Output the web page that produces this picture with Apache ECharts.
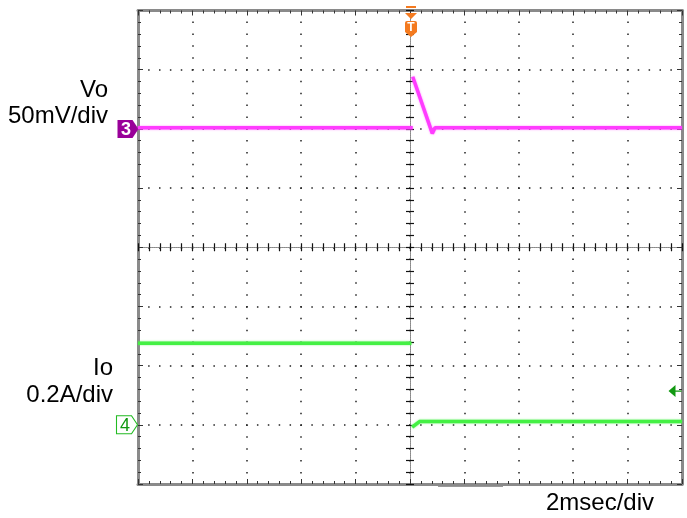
<!DOCTYPE html>
<html><head><meta charset="utf-8">
<script src="https://cdn.jsdelivr.net/npm/echarts@6/dist/echarts.min.js"></script>
<style>html,body{margin:0;padding:0;background:#fff}#c{width:687px;height:518px}</style>
</head><body><div id="c"></div>
<script>
// Time axis in ms (2 ms/div, trigger at 0)
const voTime = [-10, 0.1, null, 0.1, 0.82, 0.92, 10];
const voMv   = [1, 1, null, 44, -3.8, 1, 1];
const ioTime = [-10, 0.05, null, 0.08, 0.35, 10];
const ioAmp  = [0.276, 0.276, null, -0.008, 0.011, 0.011];
const trigLevelA = 0.114;
const labels = { vo: 'Vo', voScale: '50mV/div', io: 'Io', ioScale: '0.2A/div', time: '2msec/div' };
const VO_OFFSET_DIV = 2, VO_PER_DIV = 50;   // mV
const IO_OFFSET_DIV = -3, IO_PER_DIV = 0.2; // A

const voData = voTime.map((t, i) => t === null ? null : [t, VO_OFFSET_DIV + voMv[i] / VO_PER_DIV]);
const ioData = ioTime.map((t, i) => t === null ? null : [t, IO_OFFSET_DIV + ioAmp[i] / IO_PER_DIV]);

const chart = echarts.init(document.getElementById('c'), null, { renderer: 'canvas' });
const FONT = '"Liberation Sans", Arial, sans-serif';
const borderLine = { show: true, onZero: false, lineStyle: { color: '#8a8a8a', width: 3 } };
const borderTick = { show: true, inside: true, length: 5, lineStyle: { color: '#333', width: 1 } };
const borderMinor = { show: true, splitNumber: 5, length: 3, lineStyle: { color: '#333', width: 1 } };
const centerLine = { show: true, onZero: true, onZeroAxisIndex: 0, lineStyle: { color: '#888', width: 1, type: [1, 1] } };
const cTick = (inside) => ({ show: true, inside: inside, length: 4, lineStyle: { color: '#111', width: 1.2 } });
const cMinor = { show: true, splitNumber: 5, length: 4, lineStyle: { color: '#111', width: 1.2 } };
const xBase = { type: 'value', min: -10, max: 10, interval: 2, axisLabel: { show: false }, splitLine: { show: false } };
const yBase = { type: 'value', min: -4, max: 4, interval: 1, axisLabel: { show: false }, splitLine: { show: false } };

const chMarker = 'path://M0,0 L15,0 L21,9 L15,18 L0,18 Z';
const trigMarker = 'path://M1,0 L11,0 L11,2 L1,2 Z M0,7 L12,7 L6,13 Z M2,15 L10,15 Q12,15 12,17 L12,26 L6,31 L0,26 L0,17 Q0,15 2,15 Z';
const levelMarker = 'path://M0,6 L7,0 L7,12 Z M7,5.4 L13,5.4 L13,6.6 L7,6.6 Z';

chart.setOption({
  animation: false,
  backgroundColor: '#fff',
  grid: { left: 138, right: 5, top: 10.5, bottom: 34, show: false },
  xAxis: [
    Object.assign({}, xBase, { position: 'bottom', axisLine: borderLine, axisTick: borderTick, minorTick: borderMinor,
      splitLine: { show: true, lineStyle: { color: '#222', width: 1.5, type: [1.5, 10.35], dashOffset: 0.75 } } }),
    Object.assign({}, xBase, { position: 'top', axisLine: borderLine, axisTick: borderTick, minorTick: borderMinor }),
    Object.assign({}, xBase, { position: 'bottom', axisLine: centerLine, axisTick: cTick(true), minorTick: cMinor }),
    Object.assign({}, xBase, { position: 'bottom', axisLine: centerLine, axisTick: cTick(false), minorTick: cMinor })
  ],
  yAxis: [
    Object.assign({}, yBase, { position: 'left', axisLine: borderLine, axisTick: borderTick, minorTick: borderMinor,
      splitLine: { show: true, lineStyle: { color: '#222', width: 1.5, type: [1.5, 9.38], dashOffset: 0.75 } } }),
    Object.assign({}, yBase, { position: 'right', axisLine: borderLine, axisTick: borderTick, minorTick: borderMinor }),
    Object.assign({}, yBase, { position: 'left', axisLine: centerLine, axisTick: cTick(true), minorTick: cMinor }),
    Object.assign({}, yBase, { position: 'left', axisLine: centerLine, axisTick: cTick(false), minorTick: cMinor })
  ],
  series: [
    {
      type: 'line', name: labels.vo, data: voData, showSymbol: false, connectNulls: false,
      lineStyle: { color: '#ff3cff', width: 3.5, shadowColor: 'rgba(255,80,255,0.7)', shadowBlur: 2 },
      itemStyle: { color: '#ff3cff' }, z: 5,
      markPoint: {
        silent: true, animation: false,
        data: [
          { coord: [-10, VO_OFFSET_DIV], symbol: chMarker, symbolSize: [21, 18], symbolOffset: [-10, 0],
            itemStyle: { color: '#990099' },
            label: { show: true, formatter: '3', color: '#fff', fontSize: 18, fontWeight: 'bold', fontFamily: FONT, offset: [-2, 1] } },
          { coord: [0, 4], symbol: trigMarker, symbolSize: [12, 31], symbolOffset: [1, 11],
            itemStyle: { color: '#f47a1f' },
            label: { show: true, formatter: 'T', color: '#fff', fontSize: 12, fontWeight: 'bold', fontFamily: FONT, offset: [0, 6] } }
        ]
      }
    },
    {
      type: 'line', name: labels.io, data: ioData, showSymbol: false, connectNulls: false,
      lineStyle: { color: '#44f044', width: 3.5, shadowColor: 'rgba(80,240,80,0.7)', shadowBlur: 2 },
      itemStyle: { color: '#44f044' }, z: 5,
      markPoint: {
        silent: true, animation: false,
        data: [
          { coord: [-10, IO_OFFSET_DIV], symbol: chMarker, symbolSize: [21, 18], symbolOffset: [-11, 0],
            itemStyle: { color: '#fff', borderColor: '#22bb22', borderWidth: 1 },
            label: { show: true, formatter: '4', color: '#119911', fontSize: 18, fontFamily: FONT, offset: [-2, 1] } },
          { coord: [10, IO_OFFSET_DIV + trigLevelA / IO_PER_DIV], symbol: levelMarker, symbolSize: [13, 12], symbolOffset: [-7, 0],
            itemStyle: { color: '#119911' }, label: { show: false } }
        ]
      }
    }
  ],
  graphic: [
    { type: 'text', right: 579, top: 78, style: { text: labels.vo, font: '24px ' + FONT, fill: '#000', textAlign: 'right' } },
    { type: 'text', right: 579, top: 104, style: { text: labels.voScale, font: '24px ' + FONT, fill: '#000' } },
    { type: 'text', right: 574, top: 356, style: { text: labels.io, font: '24px ' + FONT, fill: '#000' } },
    { type: 'text', right: 574, top: 383, style: { text: labels.ioScale, font: '24px ' + FONT, fill: '#000' } },
    { type: 'text', left: 546, top: 491, style: { text: labels.time, font: '24px ' + FONT, fill: '#000' } },
    { type: 'rect', left: 438, top: 485, shape: { width: 65, height: 2 }, style: { fill: '#999' } }
  ]
});
</script>
</body></html>
